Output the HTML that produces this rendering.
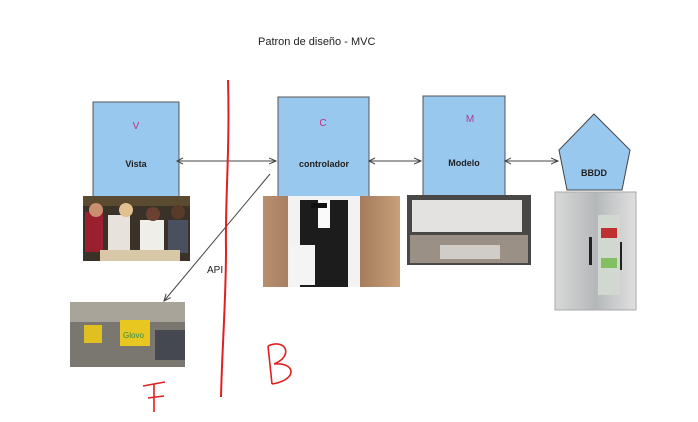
<!DOCTYPE html>
<html><head><meta charset="utf-8"><style>
html,body{margin:0;padding:0;background:#fff;}
svg{display:block;font-family:"Liberation Sans",sans-serif;}
</style></head><body>
<svg width="698" height="422" viewBox="0 0 698 422" xmlns="http://www.w3.org/2000/svg">
<defs>
<marker id="a" markerWidth="8" markerHeight="8" refX="7" refY="4" orient="auto"><path d="M0,1 L7,4 L0,7" fill="none" stroke="#444" stroke-width="1"/></marker>
<linearGradient id="wood" x1="0" y1="0" x2="1" y2="0"><stop offset="0" stop-color="#b89070"/><stop offset="0.5" stop-color="#8a6248"/><stop offset="1" stop-color="#c9a07a"/></linearGradient>
<linearGradient id="steel" x1="0" y1="0" x2="1" y2="0"><stop offset="0" stop-color="#d8d8d8"/><stop offset="0.5" stop-color="#b5b8ba"/><stop offset="1" stop-color="#e0e0e0"/></linearGradient>
</defs>
<text x="258" y="45" font-size="11" fill="#222">Patron de diseño - MVC</text>

<rect x="93" y="102" width="86" height="95" fill="#99c8ee" stroke="#555"/>
<text x="136" y="129" font-size="10" fill="#c0307a" text-anchor="middle">V</text>
<text x="136" y="167" font-size="9" font-weight="bold" fill="#222" text-anchor="middle">Vista</text>

<rect x="278" y="97" width="91" height="100" fill="#99c8ee" stroke="#555"/>
<text x="323" y="126" font-size="10" fill="#c0307a" text-anchor="middle">C</text>
<text x="324" y="167" font-size="9" font-weight="bold" fill="#222" text-anchor="middle">controlador</text>

<rect x="423" y="96" width="82" height="100" fill="#99c8ee" stroke="#555"/>
<text x="470" y="122" font-size="10" fill="#b03a90" text-anchor="middle">M</text>
<text x="464" y="166" font-size="9" font-weight="bold" fill="#222" text-anchor="middle">Modelo</text>

<polygon points="594,114 630,150 622,190 567,190 559,150" fill="#99c8ee" stroke="#444"/>
<text x="594" y="176" font-size="9" font-weight="bold" fill="#222" text-anchor="middle">BBDD</text>

<line x1="177" y1="161" x2="276" y2="161" stroke="#444" marker-end="url(#a)"/>
<polyline points="183,158 177,161 183,164" fill="none" stroke="#444"/>
<line x1="369" y1="161" x2="421" y2="161" stroke="#444" marker-end="url(#a)"/>
<polyline points="375,158 369,161 375,164" fill="none" stroke="#444"/>
<line x1="505" y1="161" x2="558" y2="161" stroke="#444" marker-end="url(#a)"/>
<polyline points="511,158 505,161 511,164" fill="none" stroke="#444"/>
<line x1="270" y1="174" x2="164" y2="301" stroke="#444" marker-end="url(#a)"/>
<text x="207" y="273" font-size="10" fill="#222">API</text>

<rect x="83" y="196" width="107" height="65" fill="#3a3228"/>
<rect x="83" y="196" width="107" height="10" fill="#5a4a30"/>
<rect x="85" y="212" width="18" height="40" fill="#9a2030"/>
<rect x="108" y="215" width="22" height="38" fill="#e8e2dc"/>
<rect x="140" y="220" width="24" height="33" fill="#f0eee8"/>
<rect x="168" y="220" width="20" height="33" fill="#4a5060"/>
<circle cx="96" cy="210" r="7" fill="#c89070"/><circle cx="126" cy="210" r="7" fill="#e2c090"/><circle cx="153" cy="214" r="7" fill="#6a4030"/><circle cx="178" cy="212" r="7" fill="#5a3a28"/>
<rect x="100" y="250" width="80" height="11" fill="#d8c8a8"/>

<rect x="263" y="196" width="137" height="91" fill="url(#wood)"/>
<rect x="288" y="196" width="72" height="91" fill="#f2f2f2"/>
<rect x="300" y="200" width="48" height="87" fill="#1c1c1c"/>
<rect x="318" y="200" width="12" height="28" fill="#fafafa"/>
<rect x="311" y="203" width="16" height="5" fill="#111"/>
<rect x="290" y="245" width="25" height="40" fill="#f4f4f4"/>

<rect x="407" y="195" width="124" height="70" fill="#4a4846"/>
<rect x="412" y="200" width="110" height="32" fill="#e4e2e0"/>
<rect x="410" y="235" width="118" height="28" fill="#9a9086"/>
<rect x="440" y="245" width="60" height="14" fill="#d0ccc8"/>

<rect x="555" y="192" width="81" height="118" fill="url(#steel)" stroke="#aaa"/>
<rect x="598" y="215" width="22" height="80" fill="#d0d8d0"/>
<rect x="601" y="228" width="16" height="10" fill="#c03030"/>
<rect x="601" y="258" width="16" height="10" fill="#80c060"/>
<rect x="589" y="237" width="3" height="28" fill="#222"/>
<rect x="620" y="242" width="2" height="28" fill="#222"/>

<rect x="70" y="302" width="115" height="65" fill="#7a7670"/>
<rect x="70" y="302" width="115" height="20" fill="#a8a49a"/>
<rect x="120" y="320" width="30" height="26" fill="#e8c820"/>
<rect x="84" y="325" width="18" height="18" fill="#e0c020"/>
<text x="123" y="338" font-size="8" fill="#2a8a50">Glovo</text>
<rect x="155" y="330" width="30" height="30" fill="#454850"/>

<path d="M228,80 C230,150 225,200 226,250 C226,300 222,350 221,397" fill="none" stroke="#e02020" stroke-width="2"/>
<path d="M268,346 L272,384 M268,346 C286,338 294,356 274,364 C296,362 298,380 272,384" fill="none" stroke="#e02020" stroke-width="1.6"/>
<path d="M143,386 L165,382 M154,384 L154,412 M148,398 L164,396" fill="none" stroke="#e02020" stroke-width="1.6"/>
</svg>
</body></html>
